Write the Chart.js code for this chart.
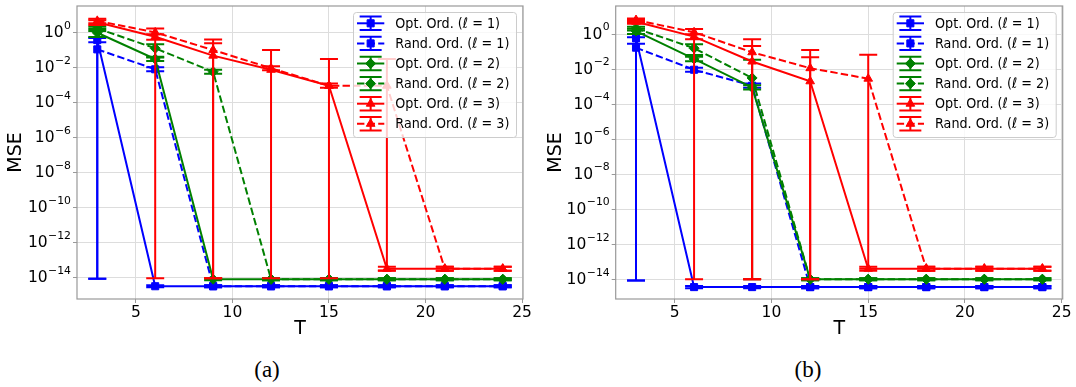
<!DOCTYPE html>
<html>
<head>
<meta charset="utf-8">
<script src="https://cdn.jsdelivr.net/npm/chart.js@4.4.0/dist/chart.umd.min.js"></script>
<style>
    body { margin: 0; background: #fff; width: 1076px; height: 387px; overflow: hidden; position: relative; }
    .panel { position: absolute; top: 0; height: 340px; }
    #wrapA { left: 0; width: 540px; }
    #wrapB { left: 540px; width: 536px; }
    .sub { position: absolute; top: 358px; font-family: "Liberation Serif", serif; font-size: 23px; line-height: 1; transform: translateX(-50%); }
</style>
</head>
<body>
<div class="panel" id="wrapA"><canvas id="chartA" width="540" height="340"></canvas></div>
<div class="panel" id="wrapB"><canvas id="chartB" width="536" height="340"></canvas></div>
<div class="sub" style="left:267px">(a)</div>
<div class="sub" style="left:808px">(b)</div>

<script>
const T = [3, 6, 9, 12, 15, 18, 21, 24];
const xTicks = [5, 10, 15, 20, 25];
const yTickExps = [0, -2, -4, -6, -8, -10, -12, -14];

// all values are log10(MSE); Lo/Hi are the error bar ends

// panel (a)
const aOpt1    = [-0.42, -14.5, -14.5, -14.5, -14.5, -14.5, -14.5, -14.5];
const aOpt1Lo  = [-14.07, -14.56, -14.56, -14.56, -14.56, -14.56, -14.56, -14.56];
const aOpt1Hi  = [-0.3, -14.44, -14.44, -14.44, -14.44, -14.44, -14.44, -14.44];
const aRand1   = [-0.95, -2.09, -14.5, -14.5, -14.5, -14.5, -14.5, -14.5];
const aRand1Lo = [-14.07, -2.2, -14.56, -14.56, -14.56, -14.56, -14.56, -14.56];
const aRand1Hi = [-0.55, -1.97, -14.44, -14.44, -14.44, -14.44, -14.44, -14.44];
const aOpt2    = [0.0, -1.5, -14.1, -14.1, -14.1, -14.1, -14.1, -14.1];
const aOpt2Lo  = [-0.25, -1.62, -14.16, -14.16, -14.16, -14.16, -14.16, -14.16];
const aOpt2Hi  = [0.22, -1.38, -14.04, -14.04, -14.04, -14.04, -14.04, -14.04];
const aRand2   = [0.25, -0.89, -2.23, -14.1, -14.1, -14.1, -14.1, -14.1];
const aRand2Lo = [0.1, -1.41, -2.35, -14.16, -14.16, -14.16, -14.16, -14.16];
const aRand2Hi = [0.34, -0.66, -2.11, -14.04, -14.04, -14.04, -14.04, -14.04];
const aOpt3    = [0.6, -0.23, -1.31, -2.12, -3.03, -13.5, -13.5, -13.5];
const aOpt3Lo  = [0.45, -0.4, -14.05, -14.05, -14.05, -13.61, -13.61, -13.61];
const aOpt3Hi  = [0.72, -0.08, -0.6, -0.99, -1.5, -13.39, -13.39, -13.39];
const aRand3   = [0.68, 0.02, -0.99, -2.03, -3.03, -3.03, -13.5, -13.5];
const aRand3Lo = [0.55, -14.05, -14.05, -2.15, -3.15, -13.6, -13.61, -13.61];
const aRand3Hi = [0.8, 0.25, -0.38, -1.91, -2.91, -1.5, -13.39, -13.39];

// panel (b)
const bOpt1    = [-0.25, -14.45, -14.45, -14.45, -14.45, -14.45, -14.45, -14.45];
const bOpt1Lo  = [-14.08, -14.51, -14.51, -14.51, -14.51, -14.51, -14.51, -14.51];
const bOpt1Hi  = [-0.18, -14.39, -14.39, -14.39, -14.39, -14.39, -14.39, -14.39];
const bRand1   = [-0.78, -2.04, -2.95, -14.45, -14.45, -14.45, -14.45, -14.45];
const bRand1Lo = [-14.08, -2.15, -3.07, -14.51, -14.51, -14.51, -14.51, -14.51];
const bRand1Hi = [-0.55, -1.93, -2.83, -14.39, -14.39, -14.39, -14.39, -14.39];
const bOpt2    = [0.17, -1.42, -3.05, -14.0, -14.0, -14.0, -14.0, -14.0];
const bOpt2Lo  = [0.0, -1.55, -3.17, -14.06, -14.06, -14.06, -14.06, -14.06];
const bOpt2Hi  = [0.3, -1.3, -2.93, -13.94, -13.94, -13.94, -13.94, -13.94];
const bRand2   = [0.32, -0.81, -2.51, -14.0, -14.0, -14.0, -14.0, -14.0];
const bRand2Lo = [0.2, -1.2, -14.0, -14.06, -14.06, -14.06, -14.06, -14.06];
const bRand2Hi = [0.42, -0.59, -1.47, -13.94, -13.94, -13.94, -13.94, -13.94];
const bOpt3    = [0.7, -0.15, -1.57, -2.7, -13.4, -13.4, -13.4, -13.4];
const bOpt3Lo  = [0.58, -0.3, -14.0, -14.0, -13.51, -13.51, -13.51, -13.51];
const bOpt3Hi  = [0.8, -0.02, -0.68, -1.32, -13.29, -13.29, -13.29, -13.29];
const bRand3   = [0.8, 0.1, -1.04, -1.95, -2.55, -13.4, -13.4, -13.4];
const bRand3Lo = [0.68, -14.0, -14.0, -14.0, -13.4, -13.51, -13.51, -13.51];
const bRand3Hi = [0.88, 0.28, -0.3, -0.91, -1.19, -13.29, -13.29, -13.29];

const seriesKinds = ['Opt. Ord.', 'Rand. Ord.', 'Opt. Ord.', 'Rand. Ord.', 'Opt. Ord.', 'Rand. Ord.'];
const seriesEll = [1, 1, 2, 2, 3, 3];
const seriesColors = ['#0000ff', '#0000ff', '#008000', '#008000', '#ff0000', '#ff0000'];
const seriesMarkers = ['rect', 'rect', 'rectRot', 'rectRot', 'triangle', 'triangle'];
const DASH = [7.4, 3.2];

const TICK_FONT = 15.5;
const LEGEND_FONT = 14.5;
const LEGEND_SQUEEZE = 0.88; // the source figure is a little narrow horizontally

function buildDatasets(means, los, his) {
    return means.map((m, i) => ({
        label: seriesKinds[i] + ' (\u2113 = ' + seriesEll[i] + ')',
        data: T.map((t, j) => ({ x: t, y: Math.pow(10, m[j]) })),
        errLo: los[i].map(e => Math.pow(10, e)),
        errHi: his[i].map(e => Math.pow(10, e)),
        borderColor: seriesColors[i],
        backgroundColor: seriesColors[i],
        borderWidth: 2,
        borderDash: i % 2 === 1 ? DASH : [],
        pointStyle: seriesMarkers[i],
        pointRadius: 5,
        pointBorderWidth: 1,
        tension: 0,
        fill: false,
        order: 6 - i
    }));
}

// error bars, drawn just before each dataset's own line
const errorBarPlugin = {
    id: 'errorBars',
    beforeDatasetDraw(chart, args) {
        const ds = chart.data.datasets[args.index];
        const xs = chart.scales.x, ys = chart.scales.y;
        const area = chart.chartArea;
        const ctx = chart.ctx;
        ctx.save();
        ctx.beginPath();
        ctx.rect(area.left, area.top, area.right - area.left, area.bottom - area.top);
        ctx.clip();
        ctx.strokeStyle = ds.borderColor;
        ctx.lineWidth = 2;
        ctx.setLineDash([]);
        ds.data.forEach((p, j) => {
            const x = xs.getPixelForValue(p.x);
            const y1 = ys.getPixelForValue(ds.errLo[j]);
            const y2 = ys.getPixelForValue(ds.errHi[j]);
            ctx.beginPath();
            ctx.moveTo(x, y1); ctx.lineTo(x, y2);
            ctx.moveTo(x - 9, y1); ctx.lineTo(x + 9, y1);
            ctx.moveTo(x - 9, y2); ctx.lineTo(x + 9, y2);
            ctx.stroke();
        });
        ctx.restore();
    }
};

// y tick labels as 10 with a raised exponent
const powerLabelPlugin = {
    id: 'powerLabels',
    afterDraw(chart) {
        const ctx = chart.ctx;
        const ys = chart.scales.y;
        const xRight = chart.chartArea.left - 6;
        ctx.save();
        ctx.fillStyle = '#000';
        ctx.textAlign = 'right';
        ctx.textBaseline = 'middle';
        ys.ticks.forEach(t => {
            const y = ys.getPixelForValue(t.value);
            const e = Math.round(Math.log10(t.value));
            const expText = (e < 0 ? '\u2212' + (-e) : String(e));
            ctx.font = (TICK_FONT * 0.7) + 'px "DejaVu Sans"';
            ctx.fillText(expText, xRight, y - 6.5);
            const ew = ctx.measureText(expText).width;
            ctx.font = TICK_FONT + 'px "DejaVu Sans"';
            ctx.fillText('10', xRight - ew - 0.5, y + 0.5);
        });
        ctx.restore();
    }
};

// axes frame plus the inset legend
const framePlugin = {
    id: 'frameLegend',
    afterDatasetsDraw(chart) {
        const ctx = chart.ctx;
        const a = chart.chartArea;
        ctx.save();
        ctx.strokeStyle = '#999999';
        ctx.lineWidth = 1.2;
        ctx.strokeRect(a.left, a.top, a.right - a.left, a.bottom - a.top);

        const w = 163, h = 125;
        const left = a.right - 7 - w, top = a.top + 6;
        ctx.fillStyle = 'rgba(255,255,255,0.8)';
        ctx.strokeStyle = '#cccccc';
        ctx.lineWidth = 1;
        ctx.beginPath();
        ctx.roundRect(left + 0.5, top + 0.5, w, h, 3);
        ctx.fill();
        ctx.stroke();

        chart.data.datasets.forEach((ds, i) => {
            const cy = top + 11.3 + 20.1 * i;
            const x0 = left + 4, x1 = left + 31.3, cx = (x0 + x1) / 2;
            ctx.strokeStyle = ds.borderColor;
            ctx.fillStyle = ds.borderColor;
            ctx.lineWidth = 2;
            ctx.setLineDash(ds.borderDash);
            ctx.beginPath();
            ctx.moveTo(x0, cy); ctx.lineTo(x1, cy);
            ctx.stroke();
            ctx.setLineDash([]);
            ctx.beginPath();
            ctx.moveTo(cx, cy - 6.7); ctx.lineTo(cx, cy + 6.7);
            ctx.moveTo(cx - 11, cy - 6.7); ctx.lineTo(cx + 11, cy - 6.7);
            ctx.moveTo(cx - 11, cy + 6.7); ctx.lineTo(cx + 11, cy + 6.7);
            ctx.stroke();
            ctx.lineWidth = 1;
            Chart.helpers.drawPoint(ctx, { pointStyle: ds.pointStyle, radius: 5, rotation: 0, borderWidth: 1 }, cx, cy);

            ctx.save();
            ctx.translate(left + 42.3, cy + 0.5);
            ctx.scale(LEGEND_SQUEEZE, 1);
            ctx.fillStyle = '#000000';
            ctx.textBaseline = 'middle';
            ctx.textAlign = 'left';
            let tx = 0;
            const parts = [
                [seriesKinds[i] + ' (', LEGEND_FONT + 'px "DejaVu Sans"'],
                ['\u2113', 'oblique ' + LEGEND_FONT + 'px "DejaVu Sans"'],
                [' = ' + seriesEll[i] + ')', LEGEND_FONT + 'px "DejaVu Sans"']
            ];
            parts.forEach(([txt, font]) => {
                ctx.font = font;
                ctx.fillText(txt, tx, 0);
                tx += ctx.measureText(txt).width;
            });
            ctx.restore();
        });
        ctx.restore();
    }
};

function makePanel(canvasId, datasets, yMinExp, yMaxExp, yAxisWidth, padRight) {
    const ctx = document.getElementById(canvasId).getContext('2d');
    return new Chart(ctx, {
        type: 'line',
        data: { datasets },
        plugins: [errorBarPlugin, framePlugin, powerLabelPlugin],
        options: {
            responsive: false,
            animation: false,
            devicePixelRatio: 1,
            layout: { padding: { top: 4, right: padRight, bottom: 0, left: 0 } },
            plugins: { legend: { display: false }, tooltip: { enabled: false } },
            scales: {
                x: {
                    type: 'linear',
                    min: 1.95,
                    max: 25.05,
                    afterBuildTicks: s => { s.ticks = xTicks.map(v => ({ value: v })); },
                    afterFit: s => { s.height = 41; },
                    grid: { color: '#dddddd', lineWidth: 1, tickLength: 4, tickColor: '#999999' },
                    border: { display: false },
                    ticks: { color: '#000', padding: 1, maxRotation: 0, font: { family: 'DejaVu Sans', size: TICK_FONT } },
                    title: { display: true, text: 'T', color: '#000', padding: 0, font: { family: 'DejaVu Sans', size: 19, lineHeight: 1.2 } }
                },
                y: {
                    type: 'logarithmic',
                    min: Math.pow(10, yMinExp),
                    max: Math.pow(10, yMaxExp),
                    afterBuildTicks: s => { s.ticks = yTickExps.map(e => ({ value: Math.pow(10, e) })); },
                    afterFit: s => { s.width = yAxisWidth; },
                    grid: { color: '#dddddd', lineWidth: 1, tickLength: 4, tickColor: '#999999' },
                    border: { display: false },
                    ticks: { display: false },
                    title: { display: true, text: 'MSE', color: '#000', padding: { top: 5, bottom: 0 }, font: { family: 'DejaVu Sans', size: 19, lineHeight: 1.2 } }
                }
            }
        }
    });
}

makePanel('chartA',
    buildDatasets([aOpt1, aRand1, aOpt2, aRand2, aOpt3, aRand3],
                  [aOpt1Lo, aRand1Lo, aOpt2Lo, aRand2Lo, aOpt3Lo, aRand3Lo],
                  [aOpt1Hi, aRand1Hi, aOpt2Hi, aRand2Hi, aOpt3Hi, aRand3Hi]),
    -15.23, 1.53, 77, 17);

makePanel('chartB',
    buildDatasets([bOpt1, bRand1, bOpt2, bRand2, bOpt3, bRand3],
                  [bOpt1Lo, bRand1Lo, bOpt2Lo, bRand2Lo, bOpt3Lo, bRand3Lo],
                  [bOpt1Hi, bRand1Hi, bOpt2Hi, bRand2Hi, bOpt3Hi, bRand3Hi]),
    -15.13, 1.6, 75.7, 13.3);
</script>
</body>
</html>
